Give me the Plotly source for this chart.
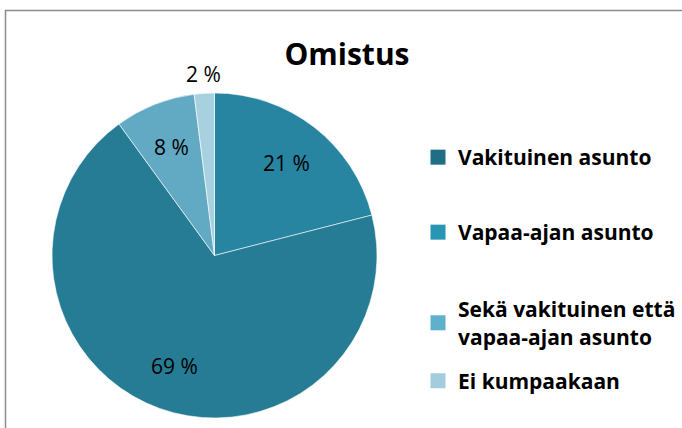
import math
import plotly.graph_objects as go

categories = ["Vakituinen asunto", "Vapaa-ajan asunto",
              "Sekä vakituinen että vapaa-ajan asunto", "Ei kumpaakaan"]
legend_labels = ["Vakituinen asunto", "Vapaa-ajan asunto",
                 "Sekä vakituinen että<br>vapaa-ajan asunto", "Ei kumpaakaan"]
values = [21, 69, 8, 2]
colors = ["#2885a2", "#267c94", "#62aac4", "#a8d1e0"]
legend_colors = ["#1f6e85", "#2896b3", "#5fb0cb", "#a3cddd"]
label_outside = [False, False, False, True]

FONT = "Open Sans"
W, H = 682, 428
# pie geometry in pixels
CX, CY, R = 214.5, 255.5, 162.5

fig = go.Figure()
fig.add_trace(go.Pie(
    labels=categories, values=values, sort=False, direction="clockwise",
    rotation=0, marker=dict(colors=colors, line=dict(color="white", width=0.6)),
    textinfo="none",
    domain=dict(x=[(CX - R) / W, (CX + R) / W], y=[1 - (CY + R) / H, 1 - (CY - R) / H]),
    showlegend=False, hoverinfo="label+percent",
))

# data labels placed at the middle angle of each slice (computed from values)
annotations = []
total = sum(values)
cum = 0
for v, out in zip(values, label_outside):
    mid = (cum + v / 2) / total * 2 * math.pi
    cum += v
    rr = R + 19 if out else R * 0.72
    px = CX + rr * math.sin(mid)
    py = CY - rr * math.cos(mid)
    annotations.append(dict(
        text=f"{v} %", x=px / W, y=1 - py / H, xref="paper", yref="paper",
        showarrow=False, xanchor="center", yanchor="middle",
        font=dict(family=FONT, size=21, color="black"),
    ))

legend_y = [157.5, 232.5, 323, 381]
layout_legends = {}
for i, (lab, col, yy) in enumerate(zip(legend_labels, legend_colors, legend_y)):
    name = "legend" if i == 0 else f"legend{i+1}"
    fig.add_trace(go.Scatter(
        x=[None], y=[None], mode="markers", name=lab,
        marker=dict(symbol="square", size=15, color=col),
        legend=name, showlegend=True,
    ))
    layout_legends[name] = dict(
        x=418 / W, y=1 - yy / H, xanchor="left", yanchor="middle",
        font=dict(family=FONT, size=21, color="black", weight="bold"),
        bgcolor="rgba(0,0,0,0)", itemwidth=30, valign="middle",
    )

fig.update_layout(
    width=W, height=H,
    margin=dict(l=0, r=0, t=0, b=0),
    paper_bgcolor="white", plot_bgcolor="white",
    xaxis=dict(visible=False), yaxis=dict(visible=False),
    title=dict(text="<b>Omistus</b>", x=347 / W, y=1 - 54.5 / H,
               xanchor="center", yanchor="middle",
               font=dict(family=FONT, size=30, color="black")),
    annotations=annotations,
    shapes=[dict(type="rect", xref="paper", yref="paper",
                 x0=5.5 / W, x1=1.02, y0=-0.02, y1=1 - 10.5 / H,
                 line=dict(color="#8c8c8c", width=1.5))],
    **layout_legends,
)

fig.write_html("out.html", config={"displayModeBar": False},
               post_script="document.body.style.margin='0';")
